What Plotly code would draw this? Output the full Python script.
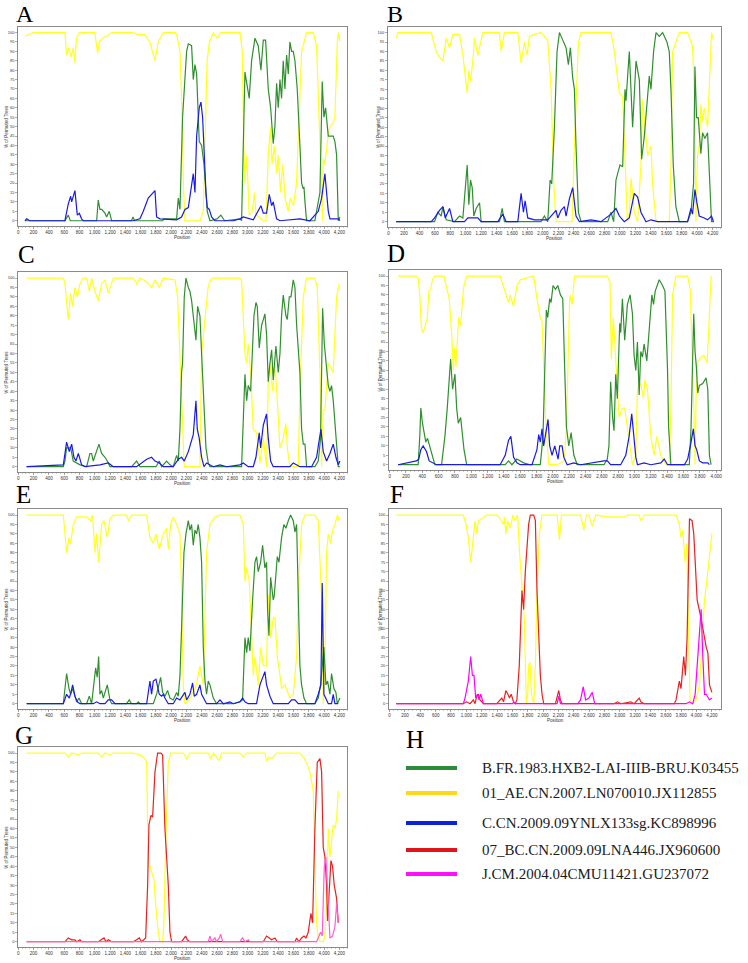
import plotly.graph_objects as go

# ---------------- data: (position, % of permuted trees) ----------------
A_green = [(87,0),(610,0),(654,3),(680,0),(1025,0),(1046,11),(1068,6),(1090,6),(1134,4),(1155,2),(1190,5),(1221,0),(1480,0),(1500,2),(1520,0),(1890,0),(1900,1),(2000,1),(2071,1),(2093,12),(2115,6),(2149,55),(2202,90),(2224,94),(2267,93),(2289,75),(2311,83),(2333,78),(2354,60),(2367,42),(2398,40),(2429,30),(2472,5),(2507,0),(2600,1),(2650,3),(2700,0),(2900,1),(2921,0),(2965,79),(3021,65),(3052,85),(3096,97),(3139,93),(3174,80),(3205,96),(3235,96),(3270,70),(3301,60),(3335,41),(3357,50),(3379,73),(3401,60),(3423,75),(3444,65),(3466,85),(3488,70),(3510,88),(3532,78),(3553,95),(3575,90),(3597,90),(3619,85),(3649,70),(3684,40),(3706,20),(3728,17),(3737,18),(3750,10),(3771,0),(3880,0),(3902,5),(3946,15),(3976,74),(3998,55),(4020,60),(4055,45),(4120,45),(4142,42),(4164,35),(4186,0),(4207,2)]
A_yellow = [(87,98),(196,100),(610,100),(632,88),(660,92),(690,87),(720,92),(741,84),(760,97),(800,100),(1000,100),(1038,89),(1060,95),(1100,97),(1150,98),(1221,100),(1500,100),(1550,99),(1650,99),(1720,95),(1788,85),(1830,95),(1897,100),(2050,100),(2071,99),(2115,90),(2140,60),(2160,20),(2180,0),(2224,0),(2290,0),(2377,0),(2420,5),(2450,50),(2470,85),(2500,95),(2551,100),(2600,97),(2650,100),(2900,100),(2930,90),(2950,40),(2965,20),(2990,35),(3020,3),(3060,5),(3090,15),(3110,3),(3150,2),(3200,0),(3240,0),(3270,35),(3300,50),(3320,30),(3350,40),(3380,25),(3400,35),(3430,15),(3460,30),(3490,12),(3530,5),(3560,12),(3600,8),(3640,20),(3680,60),(3706,90),(3771,100),(3859,100),(3902,93),(3946,40),(3968,25),(3981,0),(3989,33),(4011,30),(4055,46),(4077,50),(4120,52),(4142,55),(4173,95),(4186,100),(4207,95)]
A_blue = [(87,0),(110,1),(150,0),(610,0),(654,9),(685,13),(698,10),(741,16),(772,3),(798,4),(828,1),(850,0),(1500,0),(1591,1),(1635,5),(1700,12),(1788,16),(1809,2),(1853,1),(2071,0.5),(2136,2),(2180,6),(2224,7),(2289,25),(2311,15),(2333,45),(2367,60),(2389,63),(2411,55),(2429,35),(2455,15),(2472,7),(2498,6),(2529,2),(2572,0),(2812,0),(2899,1),(2943,2),(3074,0.5),(3174,8),(3205,4),(3248,4),(3283,14),(3314,8),(3335,10),(3379,1),(3423,0),(3684,1),(3815,0),(3924,5),(3968,12),(4011,25),(4055,5),(4077,1),(4186,1),(4207,0)]

B_green = [(99,0),(596,0),(639,5),(682,3),(704,8),(747,1),(855,0),(920,3),(963,2),(1019,30),(1040,9),(1062,22),(1084,18),(1105,3),(1135,7),(1179,10),(1200,0),(1438,0),(1472,7),(1502,0),(1977,0),(2020,3),(2063,0),(2094,22),(2115,20),(2150,50),(2184,90),(2215,100),(2258,96),(2301,92),(2331,83),(2357,92),(2387,76),(2409,70),(2430,40),(2461,5),(2495,0),(2841,0),(2884,5),(2918,0),(2948,22),(3000,30),(3035,29),(3065,70),(3078,64),(3121,90),(3164,50),(3208,85),(3251,75),(3272,50),(3281,33),(3315,45),(3350,60),(3380,77),(3402,70),(3436,90),(3467,100),(3510,98),(3553,100),(3609,95),(3639,90),(3661,70),(3691,30),(3725,8),(3769,0),(3877,0),(3920,5),(3954,20),(3972,82),(3993,55),(4015,55),(4049,36),(4071,47),(4101,44),(4136,47),(4187,0),(4213,0)]
B_yellow = [(99,97),(121,100),(553,100),(617,90),(660,87),(704,85),(747,97),(790,92),(833,99),(920,99),(963,88),(1019,68),(1040,80),(1062,74),(1092,85),(1114,97),(1157,88),(1179,92),(1222,100),(1438,100),(1459,90),(1502,100),(1675,100),(1718,84),(1761,95),(1796,88),(1826,98),(1891,99),(1977,100),(2063,96),(2107,70),(2141,20),(2171,0),(2250,0),(2380,0),(2409,40),(2461,95),(2495,100),(2884,100),(2927,90),(2992,68),(3035,66),(3065,30),(3096,0),(3121,5),(3143,23),(3186,5),(3229,0),(3272,30),(3294,65),(3324,50),(3359,35),(3402,40),(3423,20),(3467,0),(3639,0),(3661,30),(3682,90),(3769,100),(3877,100),(3941,93),(3972,60),(3985,0),(4006,35),(4028,40),(4049,62),(4071,53),(4093,60),(4136,50),(4187,100),(4213,96)]
B_blue = [(99,0),(553,0),(596,2),(660,6),(704,8),(734,2),(790,7),(833,0),(984,0),(1027,2),(1157,2),(1200,0),(1416,0),(1481,4),(1524,0),(1675,0),(1718,15),(1748,5),(1770,11),(1804,2),(1891,1),(2063,1),(2171,6),(2193,2),(2236,6),(2279,8),(2301,3),(2344,12),(2387,18),(2409,10),(2430,3),(2474,0),(2625,1),(2754,0),(2884,4),(2948,7),(2992,3),(3056,0),(3121,2),(3186,15),(3229,13),(3272,5),(3337,0),(3402,1),(3488,0),(3877,0),(3920,7),(3941,4),(3972,17),(3998,10),(4028,3),(4093,2),(4136,1),(4187,3),(4213,0)]

C_green = [(109,0),(589,0),(610,3),(632,10),(685,10),(719,3),(807,1),(894,0),(937,7),(959,7),(981,3),(1025,8),(1055,12),(1090,7),(1134,5),(1164,3),(1199,0),(1482,0),(1548,3),(1591,0),(1801,0),(1844,3),(1875,0),(1940,3),(1984,1),(2027,0),(2071,6),(2093,3),(2115,20),(2136,50),(2149,55),(2171,90),(2193,100),(2224,95),(2245,93),(2267,88),(2289,80),(2324,67),(2346,85),(2376,80),(2398,60),(2429,30),(2455,10),(2485,2),(2507,0),(2921,0),(2965,49),(2987,35),(3008,43),(3039,40),(3061,60),(3083,80),(3109,87),(3126,85),(3152,63),(3183,75),(3205,78),(3226,81),(3248,70),(3270,45),(3292,55),(3314,62),(3335,46),(3370,64),(3401,50),(3423,60),(3444,80),(3466,91),(3501,80),(3519,78),(3545,90),(3567,90),(3597,99),(3619,95),(3641,75),(3662,60),(3684,50),(3706,20),(3728,12),(3750,12),(3771,0),(3880,0),(3924,3),(3954,15),(3981,84),(4003,65),(4024,55),(4055,43),(4077,40),(4098,43),(4120,35),(4155,15),(4186,0),(4207,0)]
C_yellow = [(109,100),(589,100),(610,97),(654,78),(685,92),(711,85),(741,95),(772,90),(807,97),(850,100),(894,100),(929,93),(959,100),(1003,93),(1046,88),(1090,97),(1134,99),(1177,92),(1243,100),(1504,100),(1548,97),(1591,100),(1679,98),(1744,95),(1788,99),(1844,95),(1897,100),(2049,99),(2084,90),(2123,45),(2171,0),(2250,0),(2376,0),(2398,60),(2485,96),(2529,100),(2899,100),(2921,99),(2965,60),(2987,55),(3008,65),(3039,50),(3074,20),(3117,18),(3161,2),(3205,15),(3248,0),(3270,45),(3292,55),(3327,40),(3357,55),(3388,35),(3423,10),(3466,15),(3501,23),(3519,10),(3553,0),(3662,0),(3684,40),(3728,90),(3771,100),(3880,100),(3911,95),(3946,50),(3968,0),(3989,30),(4011,30),(4055,55),(4098,52),(4120,50),(4164,90),(4199,97)]
C_blue = [(109,0),(589,1),(632,13),(667,8),(698,12),(728,5),(754,3),(785,7),(807,4),(828,1),(872,0),(1068,1),(1177,2),(1243,0),(1548,0),(1613,2),(1679,4),(1744,5),(1788,3),(1844,2),(1897,0),(2027,0),(2093,4),(2136,5),(2171,3),(2224,8),(2267,15),(2289,17),(2324,35),(2341,20),(2367,15),(2398,5),(2429,0),(2463,2),(2551,0),(2638,1),(2725,0),(2899,1),(2943,2),(3008,0),(3074,0),(3109,5),(3152,18),(3170,10),(3205,22),(3226,25),(3248,28),(3270,15),(3301,3),(3335,0),(3553,0),(3597,2),(3641,1),(3684,0),(3837,0),(3902,5),(3959,20),(3989,8),(4033,3),(4077,7),(4120,12),(4155,5),(4186,1),(4207,3)]

D_green = [(103,0),(349,0),(369,15),(382,30),(402,22),(418,18),(443,12),(464,14),(492,10),(513,6),(533,3),(554,0),(636,0),(677,15),(706,30),(730,48),(747,56),(771,40),(800,48),(821,30),(841,22),(870,25),(890,15),(911,8),(944,0),(1416,0),(1457,2),(1498,0),(1559,3),(1641,1),(1723,0),(1846,0),(1879,15),(1896,45),(1920,82),(1937,78),(1961,88),(1978,86),(2002,95),(2031,93),(2060,95),(2093,90),(2121,88),(2142,55),(2166,20),(2195,10),(2224,17),(2257,5),(2298,0),(2626,0),(2667,3),(2687,10),(2708,44),(2732,25),(2749,18),(2770,48),(2790,35),(2819,75),(2831,70),(2852,88),(2880,66),(2913,85),(2946,90),(2975,80),(2995,58),(3016,50),(3036,65),(3057,37),(3077,60),(3098,57),(3118,64),(3151,55),(3167,65),(3188,80),(3213,90),(3233,85),(3254,92),(3303,98),(3344,95),(3373,92),(3405,50),(3418,20),(3430,10),(3446,0),(3672,0),(3693,20),(3726,80),(3742,60),(3758,52),(3775,38),(3795,42),(3836,43),(3877,46),(3898,40),(3918,5),(3939,0)]
D_yellow = [(103,100),(328,100),(349,99),(369,90),(390,72),(410,70),(451,76),(460,77),(480,92),(501,93),(525,98),(554,100),(665,100),(706,92),(730,88),(759,70),(780,50),(796,62),(812,52),(845,78),(870,74),(894,88),(911,95),(944,100),(1354,100),(1457,86),(1477,90),(1518,84),(1559,95),(1600,98),(1682,99),(1764,100),(1805,88),(1846,78),(1867,76),(1887,55),(1916,20),(1949,0),(2050,0),(2140,2),(2166,20),(2207,90),(2236,85),(2265,100),(2667,100),(2700,97),(2716,56),(2741,78),(2757,65),(2782,50),(2811,25),(2852,30),(2880,30),(2913,20),(2975,0),(3016,5),(3036,40),(3077,43),(3110,35),(3126,45),(3159,40),(3200,15),(3241,5),(3274,15),(3323,5),(3385,0),(3426,0),(3446,30),(3467,90),(3508,100),(3652,100),(3684,92),(3713,55),(3734,20),(3742,0),(3754,35),(3775,55),(3816,57),(3849,58),(3877,55),(3890,54),(3918,80),(3939,100)]
D_blue = [(103,0),(328,2),(357,3),(382,8),(410,10),(451,7),(484,2),(533,1),(574,0),(1354,0),(1416,5),(1457,13),(1485,15),(1518,4),(1559,1),(1600,0),(1744,0),(1805,8),(1826,16),(1846,12),(1867,19),(1887,10),(1908,15),(1941,24),(1961,10),(1990,5),(2023,10),(2043,7),(2064,3),(2084,10),(2113,10),(2134,4),(2175,0),(2257,1),(2339,0),(2626,2),(2667,2),(2708,0),(2831,0),(2893,5),(2934,15),(2966,27),(2987,18),(3016,4),(3036,0),(3118,1),(3200,0),(3323,1),(3364,3),(3405,0),(3611,0),(3652,3),(3693,12),(3721,19),(3742,10),(3762,8),(3795,2),(3836,1),(3898,1),(3918,0)]

E_green = [(109,0),(589,0),(632,16),(663,8),(685,5),(711,8),(741,4),(763,1),(794,3),(828,0),(894,0),(929,4),(959,0),(1012,19),(1033,14),(1051,25),(1068,5),(1090,7),(1112,3),(1164,10),(1186,5),(1199,2),(1221,0),(1417,0),(1452,2),(1482,0),(1548,0),(1570,1),(1591,0),(1766,0),(1809,5),(1844,12),(1862,14),(1888,6),(1918,4),(1953,7),(1984,3),(2027,2),(2071,6),(2093,4),(2115,15),(2136,40),(2167,80),(2193,90),(2224,97),(2245,92),(2267,95),(2289,84),(2311,92),(2333,90),(2354,95),(2376,88),(2398,75),(2420,30),(2442,12),(2463,5),(2485,12),(2507,10),(2551,3),(2594,0),(2812,0),(2899,1),(2934,2),(2965,35),(2987,27),(3008,35),(3030,28),(3065,55),(3096,75),(3117,78),(3139,70),(3170,75),(3196,84),(3226,72),(3248,75),(3261,50),(3279,36),(3301,67),(3335,55),(3348,57),(3370,70),(3388,78),(3410,75),(3444,88),(3475,95),(3501,93),(3532,97),(3562,100),(3597,97),(3619,91),(3641,95),(3662,50),(3684,20),(3706,10),(3737,3),(3771,0),(3880,0),(3924,3),(3954,10),(3981,22),(3998,30),(4024,10),(4046,12),(4077,5),(4098,16),(4129,8),(4155,6),(4173,0),(4207,3)]
E_yellow = [(109,100),(589,100),(632,80),(663,88),(685,85),(719,95),(763,99),(894,99),(946,97),(972,100),(1003,80),(1025,90),(1051,75),(1090,95),(1121,97),(1164,88),(1199,98),(1243,100),(1417,100),(1443,97),(1482,100),(1679,100),(1722,88),(1766,85),(1801,90),(1844,82),(1897,90),(1940,93),(1962,82),(1993,95),(2027,99),(2071,95),(2115,90),(2136,60),(2158,10),(2180,0),(2250,3),(2330,10),(2376,20),(2420,10),(2463,80),(2507,95),(2572,99),(2638,100),(2899,100),(2943,95),(2965,65),(2987,72),(3021,65),(3039,45),(3074,15),(3096,25),(3139,10),(3170,30),(3205,20),(3248,20),(3270,58),(3301,35),(3335,45),(3357,46),(3388,25),(3423,15),(3444,8),(3488,10),(3553,3),(3597,5),(3641,25),(3662,60),(3706,95),(3750,100),(3880,100),(3924,97),(3954,65),(3968,55),(3989,0),(4011,20),(4033,80),(4055,90),(4085,85),(4111,92),(4142,95),(4173,100),(4199,97)]
E_blue = [(109,0),(589,0),(632,5),(667,3),(689,6),(711,10),(741,4),(772,1),(807,0),(981,0),(1025,1),(1068,0),(1134,0),(1177,2),(1221,2),(1264,0),(1679,0),(1722,12),(1744,5),(1766,12),(1801,13),(1822,8),(1844,5),(1875,4),(1897,5),(1918,3),(1962,0),(2027,0),(2071,3),(2115,2),(2180,6),(2202,2),(2245,5),(2280,11),(2302,4),(2333,5),(2376,10),(2398,5),(2420,3),(2463,0),(2594,0),(2638,2),(2681,0),(2769,1),(2812,0),(2899,1),(2934,3),(2965,1),(3008,0),(3117,0),(3161,10),(3196,14),(3226,17),(3248,10),(3292,4),(3335,0),(3532,0),(3575,2),(3619,2),(3662,0),(3880,0),(3924,5),(3959,10),(3976,64),(3998,5),(4033,2),(4055,0),(4098,0),(4120,5),(4142,0),(4186,0)]

F_yellow = [(87,100),(961,100),(996,95),(1026,88),(1057,75),(1079,85),(1114,97),(1135,90),(1157,97),(1201,98),(1266,100),(1397,100),(1441,98),(1485,95),(1498,99),(1515,90),(1537,97),(1572,93),(1607,100),(1638,97),(1668,100),(1694,80),(1725,60),(1756,45),(1782,0),(1800,5),(1812,20),(1830,22),(1850,5),(1878,0),(1900,20),(1921,60),(1952,90),(1987,100),(2183,100),(2214,87),(2240,100),(2489,100),(2533,92),(2564,100),(2598,100),(2642,94),(2686,100),(2839,99),(3057,99),(3101,100),(3253,100),(3275,97),(3319,100),(3734,100),(3777,95),(3799,88),(3821,92),(3852,75),(3874,85),(3896,30),(3917,0),(3952,0),(3996,2),(4039,10),(4061,26),(4083,45),(4105,55),(4127,62),(4149,70),(4175,80),(4201,90)]
F_red = [(87,0),(961,0),(1004,1),(1048,0),(1092,2),(1114,0),(1135,4),(1157,5),(1179,2),(1223,0),(1397,0),(1441,2),(1463,3),(1485,1),(1515,7),(1542,5),(1563,3),(1585,5),(1616,1),(1638,0),(1659,2),(1690,20),(1725,60),(1747,50),(1769,70),(1812,95),(1834,100),(1878,100),(1900,97),(1921,60),(1943,40),(1965,15),(1987,5),(2009,0),(2162,0),(2205,7),(2227,2),(2249,0),(2926,0),(2970,1),(3013,0),(3144,1),(3188,0),(3253,3),(3275,1),(3319,0),(3712,0),(3734,2),(3777,12),(3799,8),(3834,25),(3856,15),(3878,35),(3909,98),(3943,97),(3965,90),(4009,55),(4039,50),(4061,45),(4083,40),(4105,34),(4127,30),(4149,27),(4170,10),(4201,6)]
F_magenta = [(87,0),(961,0),(983,3),(1026,12),(1057,25),(1079,15),(1100,15),(1122,3),(1144,5),(1166,2),(1188,5),(1223,0),(1607,0),(1616,1),(1638,0),(2183,0),(2205,4),(2227,0),(2454,0),(2489,2),(2524,9),(2555,2),(2598,3),(2642,6),(2673,0),(3865,0),(3909,1),(3952,0),(3983,5),(4017,25),(4048,48),(4061,50),(4083,25),(4105,5),(4127,5),(4149,3),(4170,2),(4201,3)]

G_yellow = [(109,100),(610,100),(654,98),(698,100),(785,99),(828,100),(1046,100),(1090,98),(1134,100),(1199,99),(1243,100),(1504,100),(1591,99),(1657,97),(1679,95),(1700,40),(1722,40),(1757,35),(1774,33),(1796,20),(1831,5),(1853,0),(1888,0),(1905,10),(1927,50),(1962,95),(1993,100),(2158,100),(2202,97),(2245,100),(2485,100),(2516,97),(2551,100),(2629,96),(2660,100),(2899,100),(2943,98),(2987,100),(3226,100),(3248,96),(3283,98),(3314,97),(3379,100),(3684,100),(3728,98),(3771,95),(3815,90),(3837,85),(3859,80),(3880,40),(3902,10),(3924,2),(3946,0),(3989,0),(4011,3),(4033,20),(4055,60),(4077,45),(4098,55),(4120,62),(4142,60),(4164,65),(4186,80)]
G_red = [(109,0),(610,0),(654,2),(698,1),(741,1),(763,0),(807,1),(828,0),(1046,0),(1090,1),(1121,2),(1147,0),(1177,1),(1221,0),(1504,0),(1548,1),(1583,2),(1613,0),(1644,1),(1666,2),(1692,30),(1709,62),(1735,67),(1757,66),(1788,90),(1822,100),(1866,100),(1888,99),(1918,60),(1940,45),(1962,30),(1984,5),(2006,0),(2136,0),(2167,2),(2189,3),(2211,1),(2245,0),(3205,0),(3248,3),(3283,2),(3314,1),(3357,2),(3388,0),(3619,0),(3641,2),(3671,0),(3706,2),(3737,3),(3763,2),(3793,5),(3828,15),(3850,10),(3880,60),(3911,95),(3946,97),(3968,90),(3989,50),(4011,45),(4033,30),(4046,11),(4064,25),(4090,43),(4111,40),(4133,30),(4164,23),(4186,10)]
G_magenta = [(109,0),(2485,0),(2507,3),(2529,0),(2572,2),(2594,0),(2629,2),(2647,4),(2673,0),(2899,0),(2934,2),(2965,0),(3008,1),(3030,0),(3902,0),(3924,2),(3954,5),(3976,3),(4003,40),(4024,45),(4055,15),(4077,2),(4111,3),(4142,8),(4164,20),(4186,10)]

legend_names = ["B.FR.1983.HXB2-LAI-IIIB-BRU.K03455", "01_AE.CN.2007.LN070010.JX112855",
                "C.CN.2009.09YNLX133sg.KC898996", "07_BC.CN.2009.09LNA446.JX960600",
                "J.CM.2004.04CMU11421.GU237072"]
panel_letters = ["A", "B", "C", "D", "E", "F", "G"]
x_tick_step = 200
y_tick_step = 5

# ---------------- styling ----------------
W, H = 748, 963
C_GREEN, C_YELLOW, C_BLUE, C_RED, C_MAG, C_PINK = "#2f8f2f", "#ffff22", "#1a1ae6", "#e52222", "#ff00ff", "#ff5fcf"
LEG_COLORS = ["#2e8b3a", "#ffd81a", "#0d1fe0", "#e0151a", "#ff10ff"]
SERIF = "Liberation Serif, Times New Roman, serif"

# panel boxes in pixels: (left, right, top, bottom, xmin, xmax, last tick)
boxes = {
    "A": (18.3, 347, 26.5, 226, 0, 4300, 4200),
    "B": (388, 721, 26.5, 227, -8, 4310, 4200),
    "C": (18.3, 347, 272, 472, 0, 4300, 4200),
    "D": (389, 721, 270, 470, -8, 4060, 4000),
    "E": (18.3, 347, 509, 709, 0, 4300, 4200),
    "F": (389, 721, 509, 709, -8, 4320, 4200),
    "G": (18.3, 347, 747, 947, 0, 4300, 4200),
}
series = {
    "A": [(A_yellow, C_YELLOW), (A_green, C_GREEN), (A_blue, C_BLUE)],
    "B": [(B_yellow, C_YELLOW), (B_green, C_GREEN), (B_blue, C_BLUE)],
    "C": [(C_yellow, C_YELLOW), (C_green, C_GREEN), (C_blue, C_BLUE)],
    "D": [(D_yellow, C_YELLOW), (D_green, C_GREEN), (D_blue, C_BLUE)],
    "E": [(E_yellow, C_YELLOW), (E_green, C_GREEN), (E_blue, C_BLUE)],
    "F": [(F_yellow, C_YELLOW), (F_red, C_RED), (F_magenta, C_MAG)],
    "G": [(G_yellow, C_YELLOW), (G_red, C_RED), (G_magenta, C_PINK)],
}
letter_pos = {"C": (26, 255), "D": (396, 254), "E": (23, 495), "F": (397, 494), "G": (24, 735)}
letter_top_x = {"A": 25.5, "B": 395}

fig = go.Figure()
layout = dict(width=W, height=H, margin=dict(l=0, r=0, t=0, b=0, autoexpand=False),
              paper_bgcolor="white", plot_bgcolor="white", showlegend=False,
              font=dict(family="Liberation Sans, Arial", color="#333"))
annotations, shapes = [], []

for i, p in enumerate(panel_letters, start=1):
    l, r, t, b, xmin, xmax, xend = boxes[p]
    xa, ya = ("x" if i == 1 else f"x{i}"), ("y" if i == 1 else f"y{i}")
    for data, col in series[p]:
        fig.add_trace(go.Scatter(x=[d[0] for d in data], y=[d[1] for d in data],
                                 mode="lines", line=dict(color=col, width=1.2),
                                 xaxis=xa, yaxis=ya, hoverinfo="skip"))
    layout["xaxis" if i == 1 else f"xaxis{i}"] = dict(
        domain=[l / W, r / W], range=[xmin, xmax], anchor=ya, automargin=False,
        showline=True, mirror=True, linecolor="#8a8a8a", linewidth=1,
        showgrid=False, zeroline=False,
        tickmode="array", tickvals=list(range(0, xend + 1, x_tick_step)),
        tickformat=",", ticks="outside", ticklen=1.5, tickwidth=0.6, tickcolor="#777",
        tickfont=dict(size=4.5, color="#333"),
        minor=dict(ticks="outside", ticklen=1, dtick=50, tickcolor="#999", tickwidth=0.5),
    )
    layout["yaxis" if i == 1 else f"yaxis{i}"] = dict(
        domain=[1 - b / H, 1 - t / H], range=[-2.8, 103.2], anchor=xa, automargin=False,
        showline=True, mirror=True, linecolor="#8a8a8a", linewidth=1,
        showgrid=False, zeroline=False, dtick=y_tick_step, tick0=0,
        ticks="outside", ticklen=2, tickwidth=0.6, tickcolor="#777",
        tickfont=dict(size=4, color="#333"),
    )
    # axis titles
    annotations.append(dict(text="Position", x=(l + r) / 2 / W, y=1 - (b + 11.7) / H,
                            xref="paper", yref="paper", showarrow=False,
                            xanchor="center", yanchor="middle", borderpad=0,
                            font=dict(size=4.6, color="#333")))
    ytx = l - (12.5 if l < 100 else 9.5)
    annotations.append(dict(text="% of Permuted Trees", x=ytx / W, y=1 - (t + b) / 2 / H,
                            xref="paper", yref="paper", showarrow=False, textangle=-90,
                            xanchor="center", yanchor="middle", borderpad=0,
                            font=dict(size=4.5, color="#333")))
    # panel letter
    if p in letter_top_x:
        annotations.append(dict(text=p, x=letter_top_x[p] / W, y=1, xref="paper", yref="paper",
                                showarrow=False, xanchor="center", yanchor="top", borderpad=0,
                                font=dict(family=SERIF, size=24, color="black")))
    else:
        lx, ly = letter_pos[p]
        annotations.append(dict(text=p, x=lx / W, y=1 - ly / H, xref="paper", yref="paper",
                                showarrow=False, xanchor="center", yanchor="middle",
                                font=dict(family=SERIF, size=25, color="black")))

# panel H: legend
annotations.append(dict(text="H", x=415 / W, y=1 - 739 / H, xref="paper", yref="paper",
                        showarrow=False, xanchor="center", yanchor="middle",
                        font=dict(family=SERIF, size=25, color="black")))
leg_y = [768, 793, 823, 850, 874]
for name, col, yy in zip(legend_names, LEG_COLORS, leg_y):
    shapes.append(dict(type="line", xref="paper", yref="paper", x0=406 / W, x1=457 / W,
                       y0=1 - yy / H, y1=1 - yy / H, line=dict(color=col, width=4)))
    annotations.append(dict(text=name, x=480 / W, y=1 - yy / H, xref="paper", yref="paper",
                            showarrow=False, xanchor="left", yanchor="middle",
                            font=dict(family=SERIF, size=15, color="#1a1a1a")))

layout["annotations"] = annotations
layout["shapes"] = shapes
fig.update_layout(**layout)
fig.write_html("out.html", config={"displayModeBar": False, "staticPlot": True},
               post_script="document.body.style.margin='0';document.body.style.overflow='hidden';")
